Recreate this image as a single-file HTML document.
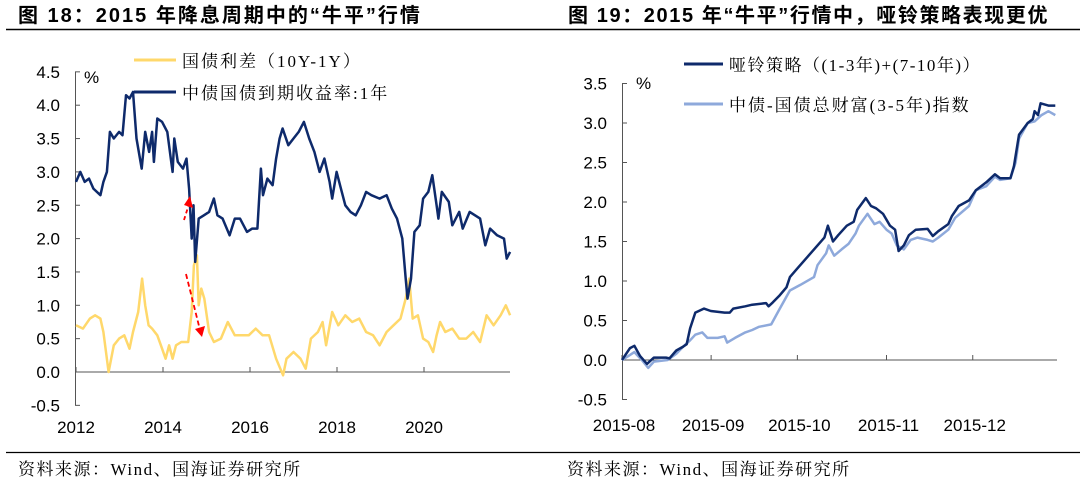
<!DOCTYPE html>
<html><head><meta charset="utf-8"><style>
html,body{margin:0;padding:0;background:#fff;}
svg{display:block;font-family:"Liberation Sans","Noto Sans CJK SC",sans-serif;}
.ser{font-family:"Liberation Serif","Noto Serif CJK SC",serif;}
</style></head><body>
<svg id="s" width="1080" height="482" viewBox="0 0 1080 482" xmlns="http://www.w3.org/2000/svg">
<text x="18" y="22" font-size="20" font-weight="bold" letter-spacing="2" fill="#000">图 18：2015 年降息周期中的“牛平”行情</text>
<text x="568" y="22" font-size="20" font-weight="bold" letter-spacing="1.6" fill="#000">图 19：2015 年“牛平”行情中，哑铃策略表现更优</text>
<line x1="6" y1="29.5" x2="540" y2="29.5" stroke="#000" stroke-width="1.5"/>
<line x1="540" y1="29.5" x2="1080" y2="29.5" stroke="#000" stroke-width="1.5"/>
<line x1="6" y1="452.5" x2="540" y2="452.5" stroke="#000" stroke-width="1.2"/>
<line x1="540" y1="452.5" x2="1080" y2="452.5" stroke="#000" stroke-width="1.2"/>
<text class="ser" x="18" y="475" font-size="17" letter-spacing="1.5" fill="#000">资料来源：Wind、国海证券研究所</text>
<text class="ser" x="567" y="475" font-size="17" letter-spacing="1.5" fill="#000">资料来源：Wind、国海证券研究所</text>
<g id="L"></g>
<g id="R"></g>
</svg>
<script>
// ---- left chart data ----
const yieldDates=[2012.00,2012.10,2012.20,2012.30,2012.40,2012.56,2012.63,2012.71,2012.78,2012.87,2012.99,2013.07,2013.15,2013.23,2013.31,2013.39,2013.51,2013.59,2013.68,2013.75,2013.79,2013.87,2013.98,2014.10,2014.18,2014.22,2014.26,2014.34,2014.46,2014.54,2014.60,2014.66,2014.70,2014.74,2014.82,2014.94,2015.06,2015.17,2015.25,2015.37,2015.53,2015.65,2015.77,2015.93,2016.05,2016.17,2016.25,2016.30,2016.40,2016.52,2016.60,2016.68,2016.75,2016.88,2017.00,2017.12,2017.24,2017.36,2017.48,2017.60,2017.71,2017.83,2017.89,2017.99,2018.11,2018.19,2018.31,2018.43,2018.55,2018.67,2018.79,2018.98,2019.14,2019.26,2019.38,2019.50,2019.58,2019.62,2019.70,2019.78,2019.90,2019.98,2020.10,2020.19,2020.29,2020.33,2020.41,2020.57,2020.65,2020.81,2020.89,2021.05,2021.29,2021.41,2021.52,2021.68,2021.84,2021.90,2021.98];
const yieldValues=[2.85,3.0,2.85,2.9,2.75,2.65,2.85,3.0,3.6,3.5,3.6,3.55,4.15,4.1,4.2,3.5,3.05,3.6,3.3,3.6,3.15,3.8,3.75,3.6,3.2,3.0,3.5,3.15,3.05,3.2,2.75,2.0,2.5,1.65,2.3,2.35,2.4,2.6,2.35,2.3,2.05,2.3,2.3,2.1,2.15,2.15,3.05,2.65,2.9,2.8,3.2,3.5,3.65,3.4,3.5,3.6,3.75,3.5,3.3,3.0,3.2,2.85,2.6,3.0,2.7,2.5,2.4,2.35,2.5,2.7,2.65,2.6,2.65,2.45,2.3,2.0,1.4,1.1,1.4,2.1,2.2,2.6,2.7,2.95,2.5,2.3,2.7,2.55,2.2,2.4,2.15,2.4,2.3,1.9,2.15,2.05,2.0,1.7,1.8];
const spreadDates=[2012.00,2012.16,2012.32,2012.44,2012.56,2012.63,2012.75,2012.87,2012.99,2013.11,2013.23,2013.31,2013.43,2013.52,2013.59,2013.67,2013.75,2013.87,2013.98,2014.06,2014.14,2014.22,2014.30,2014.42,2014.58,2014.66,2014.71,2014.78,2014.82,2014.88,2014.95,2015.06,2015.17,2015.33,2015.49,2015.65,2015.81,2015.97,2016.13,2016.29,2016.44,2016.60,2016.76,2016.84,2017.00,2017.16,2017.28,2017.40,2017.56,2017.67,2017.75,2017.89,2018.03,2018.19,2018.35,2018.51,2018.67,2018.83,2018.98,2019.14,2019.30,2019.46,2019.58,2019.66,2019.74,2019.86,2019.98,2020.10,2020.21,2020.29,2020.37,2020.49,2020.65,2020.81,2020.97,2021.13,2021.29,2021.44,2021.60,2021.76,2021.88,2021.98];
const spreadValues=[0.7,0.65,0.8,0.85,0.8,0.6,0.0,0.4,0.5,0.55,0.35,0.6,0.9,1.4,1.0,0.7,0.65,0.55,0.35,0.2,0.4,0.2,0.4,0.45,0.45,0.9,1.6,1.75,1.0,1.25,1.1,0.6,0.45,0.5,0.75,0.55,0.55,0.55,0.65,0.55,0.55,0.2,-0.05,0.2,0.3,0.2,0.05,0.5,0.6,0.75,0.4,0.9,0.7,0.85,0.75,0.8,0.6,0.55,0.4,0.6,0.7,0.8,1.1,1.4,0.8,0.85,0.5,0.45,0.3,0.55,0.75,0.6,0.65,0.5,0.5,0.6,0.45,0.85,0.7,0.85,1.0,0.85];
const leftYTicks=[4.5,4.0,3.5,3.0,2.5,2.0,1.5,1.0,0.5,0.0,-0.5];
const leftXTicks=[2012,2014,2016,2018,2020];
// ---- right chart data ----
const dumbbellDays=[0,2.8,4.3,6.3,8.7,11.1,15.3,16.5,18.9,21.3,22.5,23.7,25.5,28.5,30.9,35.7,37.5,38.7,42.9,45.3,50.1,51,52.5,54.9,57.2,58.4,60.8,64.4,66.8,70.4,71.6,73.4,75.2,78.2,80.6,81.8,84.8,86.6,88.4,90.8,93.2,95,96.2,98,99.8,102.2,106.3,108.1,110,113.5,114.7,117.1,120.7,123.1,126.7,129.7,131.5,135.1,136.3,138.1,141.1,142.9,143.5,144.7,145.6,148.3,150.7];
const dumbbellValues=[0,0.15,0.18,0.05,-0.05,0.03,0.03,0.02,0.12,0.17,0.2,0.4,0.6,0.65,0.62,0.6,0.6,0.65,0.68,0.7,0.72,0.68,0.73,0.82,0.92,1.05,1.15,1.3,1.4,1.55,1.7,1.5,1.58,1.7,1.75,1.9,2.05,1.95,1.92,1.85,1.7,1.65,1.38,1.45,1.58,1.65,1.66,1.57,1.63,1.72,1.82,1.95,2.02,2.15,2.25,2.35,2.3,2.3,2.45,2.85,3.0,3.05,3.15,3.1,3.25,3.22,3.22];
const indexDays=[0,2.2,4.3,6.9,9.1,11.1,15.9,18.9,21.3,23.7,25.5,27.9,29.7,33.3,35.7,36.6,39.3,42.9,45.3,47.7,51.9,54.9,58.4,62,66.8,68,71,71.9,73.8,76.4,78.8,81.2,82.4,85.4,87.8,89.6,92,93.8,95.6,98,100.4,102.8,106.3,108.1,110,113.5,115.9,120.7,123.1,126.7,129.7,131.5,135.1,136.9,138.1,141.1,143.5,145.9,148.3,150.7];
const indexValues=[0,0.05,0.1,0.0,-0.1,-0.02,0.0,0.08,0.17,0.25,0.32,0.35,0.28,0.28,0.3,0.22,0.28,0.35,0.38,0.42,0.45,0.65,0.88,0.95,1.05,1.2,1.35,1.45,1.32,1.4,1.47,1.6,1.7,1.85,1.72,1.75,1.65,1.6,1.45,1.4,1.52,1.55,1.52,1.5,1.55,1.65,1.8,1.95,2.15,2.2,2.32,2.28,2.3,2.5,2.8,3.0,3.02,3.1,3.15,3.1];
const rightYTicks=[3.5,3.0,2.5,2.0,1.5,1.0,0.5,0.0,-0.5];
const rightXTicks=[0,31,61,92,122];
const rightXLabels=["2015-08","2015-09","2015-10","2015-11","2015-12"];

const NS="http://www.w3.org/2000/svg";
function mk(parent,tag,attrs,text){const e=document.createElementNS(NS,tag);for(const k in attrs)e.setAttribute(k,attrs[k]);if(text!==undefined)e.textContent=text;parent.appendChild(e);return e;}
const lx=yr=>76+(yr-2012)*43.5, ly=v=>372-v*66.7;
const rx=d=>622+d*2.875, ry=v=>360-v*79;
function pathD(xs,ys,fx,fy){return xs.map((x,i)=>(i?'L':'M')+fx(x).toFixed(1)+','+fy(ys[i]).toFixed(1)).join('');}

// left
const L=document.getElementById('L');
let e=mk(L,'line',{x1:75.5,y1:72,x2:75.5,y2:405,stroke:'#555','stroke-width':1});


e=mk(L,'line',{x1:75,y1:ly(0),x2:510,y2:ly(0),stroke:'#555','stroke-width':1});


leftYTicks.forEach(t=>{
  e=mk(L,'line',{x1:75,y1:ly(t),x2:80,y2:ly(t),stroke:'#555'});
  
  
  e=mk(L,'text',{x:60,y:ly(t)+6,'font-size':17,'text-anchor':'end',fill:'#000'},t.toFixed(1));
  
  
});
leftXTicks.forEach(t=>{
  e=mk(L,'line',{x1:lx(t),y1:ly(0),x2:lx(t),y2:ly(0)-5,stroke:'#555'});
  
  
  e=mk(L,'text',{x:lx(t),y:433,'font-size':17,'text-anchor':'middle',fill:'#000'},String(t));
  
  
});
e=mk(L,'text',{x:84,y:83,'font-size':17,fill:'#000'},'%');


e=mk(L,'path',{d:pathD(spreadDates,spreadValues,lx,ly),fill:'none',stroke:'#FFD86B','stroke-width':2.5,'stroke-linejoin':'round'});


e=mk(L,'path',{d:pathD(yieldDates,yieldValues,lx,ly),fill:'none',stroke:'#0E2A6B','stroke-width':2.5,'stroke-linejoin':'round'});


// annotation arrows
e=mk(L,'line',{x1:184,y1:220,x2:189,y2:204,stroke:'#f00','stroke-width':1.8,'stroke-dasharray':'4,3'});


e=mk(L,'polygon',{points:'184,205 190,196 193,208',fill:'#f00'});


e=mk(L,'line',{x1:186,y1:274,x2:199,y2:326,stroke:'#f00','stroke-width':1.8,'stroke-dasharray':'5,3'});


e=mk(L,'polygon',{points:'195,329 205,326 202,337',fill:'#f00'});


// legend
e=mk(L,'line',{x1:134,y1:60,x2:176,y2:60,stroke:'#FFD86B','stroke-width':3});


e=mk(L,'text',{x:182,y:67,'font-size':17,'letter-spacing':2,fill:'#000','class':'ser'},'国债利差（10Y-1Y）');


e=mk(L,'line',{x1:134,y1:92,x2:176,y2:92,stroke:'#0E2A6B','stroke-width':3});


e=mk(L,'text',{x:182,y:99,'font-size':17,'letter-spacing':2,fill:'#000','class':'ser'},'中债国债到期收益率:1年');



// right
const R=document.getElementById('R');
e=mk(R,'line',{x1:622.5,y1:84,x2:622.5,y2:400,stroke:'#555'});


e=mk(R,'line',{x1:622,y1:ry(0),x2:1057,y2:ry(0),stroke:'#555'});


rightYTicks.forEach(t=>{
  e=mk(R,'line',{x1:622,y1:ry(t),x2:627,y2:ry(t),stroke:'#555'});
  
  
  e=mk(R,'text',{x:607,y:ry(t)+6,'font-size':17,'text-anchor':'end',fill:'#000'},t.toFixed(1));
  
  
});
rightXTicks.forEach((t,i)=>{
  e=mk(R,'line',{x1:rx(t),y1:ry(0),x2:rx(t),y2:ry(0)-5,stroke:'#555'});
  
  
  e=mk(R,'text',{x:rx(t)+2,y:431,'font-size':17,'text-anchor':'middle',fill:'#000'},rightXLabels[i]);
  
  
});
e=mk(R,'text',{x:636,y:89,'font-size':17,fill:'#000'},'%');


e=mk(R,'path',{d:pathD(indexDays,indexValues,rx,ry),fill:'none',stroke:'#8EA9DB','stroke-width':2.5,'stroke-linejoin':'round'});


e=mk(R,'path',{d:pathD(dumbbellDays,dumbbellValues,rx,ry),fill:'none',stroke:'#0E2A6B','stroke-width':2.5,'stroke-linejoin':'round'});


e=mk(R,'line',{x1:684,y1:64,x2:723,y2:64,stroke:'#0E2A6B','stroke-width':3});


e=mk(R,'text',{x:729,y:71,'font-size':17,'letter-spacing':1.5,fill:'#000','class':'ser'},'哑铃策略（(1-3年)+(7-10年)）');


e=mk(R,'line',{x1:684,y1:104,x2:723,y2:104,stroke:'#8EA9DB','stroke-width':3});


e=mk(R,'text',{x:729,y:111,'font-size':17,'letter-spacing':2,fill:'#000','class':'ser'},'中债-国债总财富(3-5年)指数');


</script>
</body></html>
